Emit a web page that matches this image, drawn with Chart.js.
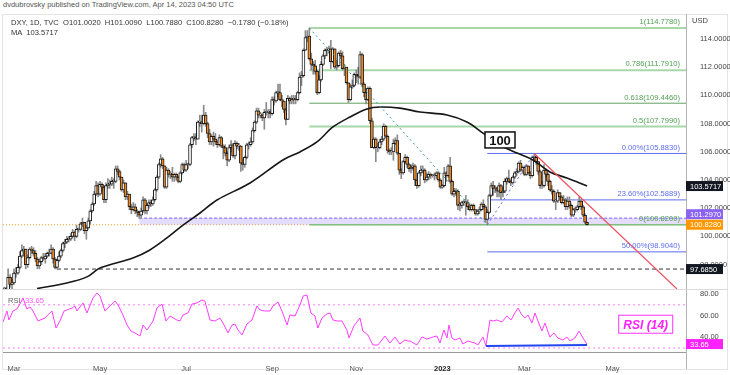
<!DOCTYPE html>
<html>
<head>
<meta charset="utf-8">
<script src="https://cdn.jsdelivr.net/npm/chart.js@4.4.1/dist/chart.umd.min.js"></script>
<style>
  body { margin: 0; width: 730px; height: 375px; background: #fff; position: relative; overflow: hidden;
         font-family: "Liberation Sans", Arial, sans-serif; }
  #byline { position: absolute; left: 3px; top: 0px; font-size: 7.5px; color: #555; white-space: pre; }
  #frame { position: absolute; left: 2px; top: 14px; width: 726px; height: 356px; border: 1px solid #e4e4e4; box-sizing: border-box; }
  #sep { position: absolute; left: 2px; top: 289px; width: 726px; height: 1px; background: #dadada; }
  #legend { position: absolute; left: 11px; top: 18px; font-size: 7.6px; color: #333; line-height: 10px; white-space: pre; z-index: 2; }
  #rsiLegend { position: absolute; left: 8px; top: 296px; font-size: 7.6px; color: #666; white-space: pre; z-index: 2; }
  #rsiLegend span { color: #ff55ff; }
  #priceCanvas { position: absolute; left: 0; top: 14px; }
  #rsiCanvas { position: absolute; left: 0; top: 290px; }
</style>
</head>
<body>
<div id="byline">dvdubrovsky published on TradingView.com, Apr 14, 2023 04:50 UTC</div>
<div id="frame"></div>
<div id="sep"></div>
<canvas id="priceCanvas" width="730" height="275"></canvas>
<canvas id="rsiCanvas" width="730" height="85"></canvas>
<div id="legend">DXY, 1D, TVC  O101.0020  H101.0090  L100.7880  C100.8280  −0.1780 (−0.18%)
MA  103.5717</div>
<div id="rsiLegend">RSI  <span>33.65</span></div>
<script>
// x = trading day number, 0 = 1 Mar 2022 (weekdays only)
const firstBar = -5;   // 22 Feb 2022
const xMin = -5.62, xMax = 343.6;

// daily closes, 22 Feb 2022 -> 14 Apr 2023 (one line per month)
const closes = [
  96.0, 96.2, 97.1, 96.6, 96.7,
  97.4, 97.4, 97.8, 98.6, 99.0, 99.1, 98.0, 98.5, 99.1, 99.0, 98.8, 98.4, 97.9, 98.2, 98.5, 98.4, 98.6, 98.8, 98.8, 99.1, 98.4, 97.8, 98.3,
  98.6, 99.0, 99.5, 99.6, 99.8, 99.8, 100.0, 100.3, 100.0, 100.5, 100.5, 100.9, 101.0, 100.4, 100.6, 101.1, 101.8, 102.3, 103.0, 103.6, 103.0,
  103.7, 103.5, 102.6, 103.6, 103.7, 103.7, 103.9, 103.9, 104.8, 104.6, 104.2, 103.3, 103.8, 102.8, 103.0, 102.1, 101.9, 102.1, 101.8, 101.7, 101.5, 101.8,
  102.6, 101.8, 102.2, 102.4, 102.3, 102.6, 103.3, 104.2, 105.1, 105.5, 105.0, 103.5, 104.7, 104.4, 104.4, 104.2, 104.4, 104.2, 103.9, 104.5, 105.1, 104.7,
  105.1, 105.1, 106.5, 107.0, 107.0, 106.9, 108.1, 108.1, 108.0, 108.6, 108.0, 107.3, 106.7, 107.1, 106.9, 106.7, 106.5, 107.0, 106.4, 106.3, 105.9,
  105.4, 106.3, 106.5, 105.7, 106.6, 106.4, 106.4, 105.2, 105.1, 105.6, 106.5, 106.5, 106.7, 107.5, 108.1, 108.9, 108.6, 108.6, 108.4, 108.8, 108.8, 108.8, 108.7,
  109.7, 109.6, 110.2, 110.2, 109.7, 109.6, 109.0, 108.3, 109.8, 109.6, 109.7, 109.8, 109.7, 110.2, 111.3, 111.4, 113.2, 114.1, 114.2, 112.6, 112.2, 112.1,
  111.7, 110.2, 111.1, 112.2, 112.8, 113.2, 113.2, 113.3, 112.4, 113.3, 112.0, 112.1, 113.0, 112.8, 111.9, 112.0, 110.9, 109.7, 110.6, 110.7, 111.5,
  111.4, 111.3, 112.9, 110.8, 110.2, 109.7, 110.5, 108.2, 106.3, 106.9, 106.3, 106.3, 106.7, 106.9, 107.8, 107.1, 106.1, 106.0, 106.0, 106.6, 106.8, 105.9,
  104.7, 104.5, 105.3, 105.6, 105.1, 104.8, 104.9, 105.0, 104.0, 103.6, 104.5, 104.7, 104.7, 104.0, 104.2, 104.4, 104.3, 104.3, 104.3, 104.5, 104.0, 103.5,
  103.6, 104.5, 104.3, 105.0, 103.9, 103.0, 103.2, 103.2, 102.2, 102.2, 102.4, 102.4, 102.4, 102.1, 101.9, 102.2, 101.9, 101.6, 101.8, 101.9, 102.3, 102.1,
  101.2, 101.7, 102.9, 103.6, 103.4, 103.4, 103.2, 103.6, 103.1, 103.2, 103.9, 104.1, 103.9, 103.8, 104.2, 104.5, 104.6, 105.2, 104.7, 104.9,
  104.4, 105.0, 104.5, 104.3, 105.6, 105.6, 105.3, 104.6, 103.6, 103.6, 104.7, 104.4, 103.9, 103.3, 103.2, 102.5, 102.5, 103.1, 102.8, 102.4, 102.6, 102.1, 102.5,
  102.2, 101.5, 101.9, 101.9, 102.1, 102.5, 102.1, 101.5, 101.006, 100.828
];
const highs = [
  96.4, 96.4, 97.7, 97.3, 97.0,
  97.7, 97.8, 98.0, 98.9, 99.4, 99.3, 99.1, 98.7, 99.2, 99.3, 99.2, 99.0, 98.5, 98.4, 98.6, 98.8, 98.8, 98.9, 99.1, 99.4, 99.2, 98.5, 98.4,
  98.9, 99.1, 99.6, 99.8, 100.0, 100.0, 100.2, 100.5, 100.4, 100.8, 100.6, 101.0, 101.3, 101.0, 100.8, 101.3, 101.9, 102.4, 103.2, 103.9, 103.8,
  103.9, 103.8, 103.6, 103.8, 104.1, 104.0, 104.2, 104.1, 105.0, 105.0, 104.7, 104.2, 104.0, 103.8, 103.2, 103.0, 102.3, 102.4, 102.3, 101.9, 101.8, 102.0,
  102.8, 102.7, 102.3, 102.6, 102.6, 102.8, 103.4, 104.3, 105.2, 105.8, 105.6, 105.0, 104.9, 104.8, 104.6, 104.9, 104.5, 104.5, 104.3, 104.6, 105.2, 105.2,
  105.4, 105.2, 106.6, 107.1, 107.3, 107.3, 108.2, 108.6, 108.6, 109.3, 108.8, 108.1, 107.6, 107.2, 107.4, 107.3, 106.8, 107.2, 107.1, 106.5, 106.5,
  106.0, 106.5, 106.8, 106.6, 106.8, 106.7, 106.6, 106.4, 105.5, 105.7, 106.6, 106.7, 107.0, 107.7, 108.2, 109.1, 109.1, 108.8, 108.7, 109.0, 109.5, 109.0, 109.0,
  109.9, 109.9, 110.3, 110.8, 110.8, 110.0, 109.6, 109.1, 110.0, 109.9, 110.0, 110.0, 110.0, 110.3, 111.6, 111.7, 113.3, 114.6, 114.6, 114.78, 113.0, 112.4,
  112.5, 111.8, 111.4, 112.4, 112.9, 113.3, 113.4, 113.5, 113.9, 113.4, 113.3, 112.5, 113.1, 113.2, 113.1, 112.2, 112.0, 110.9, 110.8, 111.1, 111.6,
  111.8, 112.0, 113.1, 113.0, 110.9, 110.5, 110.6, 110.6, 108.4, 107.0, 107.0, 106.6, 106.9, 107.1, 107.99, 107.9, 107.2, 106.2, 106.3, 106.9, 107.0, 107.2,
  105.9, 104.8, 105.4, 105.8, 105.7, 105.2, 105.1, 105.2, 105.1, 104.0, 104.6, 105.0, 105.0, 104.8, 104.5, 104.6, 104.5, 104.4, 104.5, 104.6, 104.6, 104.1,
  103.7, 104.9, 104.6, 105.1, 105.6, 104.0, 103.4, 103.4, 103.3, 102.4, 102.5, 102.6, 102.9, 102.6, 102.3, 102.3, 102.3, 101.9, 101.9, 102.1, 102.4, 102.6,
  102.2, 101.9, 103.0, 103.8, 103.9, 103.6, 103.5, 103.8, 103.7, 103.5, 104.1, 104.2, 104.7, 104.0, 104.3, 104.6, 104.8, 105.3, 105.4, 105.0,
  105.0, 105.1, 105.0, 104.6, 105.7, 105.88, 105.7, 105.3, 104.7, 103.9, 105.1, 104.8, 104.5, 104.0, 103.6, 103.3, 102.6, 103.3, 103.1, 102.9, 102.9, 102.7, 102.8,
  102.8, 102.3, 102.0, 102.1, 102.2, 102.8, 102.6, 102.2, 101.6, 101.009
];
const lows = [
  95.7, 95.9, 96.1, 96.4, 96.1,
  96.6, 97.1, 97.3, 97.7, 98.5, 98.6, 97.7, 97.8, 98.4, 98.8, 98.6, 98.2, 97.7, 97.7, 98.0, 98.3, 98.1, 98.5, 98.6, 98.8, 98.1, 97.7, 97.7,
  98.2, 98.5, 98.9, 99.2, 99.5, 99.6, 99.7, 99.9, 99.7, 99.9, 100.3, 100.4, 100.7, 100.2, 99.8, 100.5, 100.9, 101.7, 102.2, 102.9, 102.8,
  102.9, 103.2, 102.4, 102.4, 103.4, 103.4, 103.6, 103.4, 103.8, 104.4, 104.0, 103.2, 103.1, 102.6, 102.6, 101.9, 101.6, 101.8, 101.6, 101.4, 101.3, 101.3,
  101.7, 101.6, 101.6, 102.0, 102.1, 102.2, 102.5, 103.2, 104.1, 104.9, 104.8, 103.4, 103.4, 104.2, 104.1, 103.9, 103.9, 104.0, 103.8, 103.8, 104.4, 104.6,
  104.6, 104.8, 105.0, 106.3, 106.8, 106.5, 106.9, 107.8, 107.4, 107.9, 107.8, 107.0, 106.5, 106.5, 106.4, 106.5, 106.3, 106.4, 106.3, 105.5, 105.7,
  105.0, 105.3, 106.0, 105.6, 105.5, 106.2, 106.1, 104.6, 104.7, 104.9, 105.5, 106.2, 106.4, 106.6, 107.4, 108.0, 108.4, 108.4, 108.2, 107.6, 108.6, 108.4, 108.4,
  108.6, 109.3, 109.5, 109.9, 109.6, 109.2, 108.8, 107.9, 108.3, 109.4, 109.4, 109.4, 109.4, 109.6, 110.1, 110.7, 111.3, 113.2, 113.8, 112.5, 111.8, 111.5,
  111.5, 110.05, 110.1, 111.0, 112.1, 112.6, 112.8, 113.0, 111.9, 112.3, 111.9, 111.8, 112.0, 112.6, 111.8, 111.4, 110.8, 109.5, 109.6, 110.5, 110.6,
  110.9, 110.8, 111.2, 110.6, 109.9, 109.4, 109.6, 108.0, 106.3, 106.2, 105.3, 106.0, 106.2, 106.5, 106.8, 107.0, 105.9, 105.8, 105.8, 105.4, 106.5, 105.8,
  104.4, 104.1, 104.4, 105.2, 104.9, 104.6, 104.5, 104.7, 103.6, 103.4, 103.5, 104.3, 104.5, 103.8, 103.9, 104.0, 104.1, 104.2, 104.0, 104.1, 103.9, 103.4,
  103.4, 103.5, 103.9, 104.2, 103.8, 102.9, 102.8, 102.9, 101.9, 101.8, 102.0, 102.2, 101.5, 101.9, 101.8, 101.8, 101.8, 101.5, 101.5, 101.6, 101.8, 101.9,
  101.0, 100.82, 101.6, 102.8, 102.9, 103.1, 102.8, 102.8, 102.6, 102.8, 103.1, 103.7, 103.8, 103.6, 103.7, 104.1, 104.3, 104.5, 104.6, 104.5,
  104.3, 104.3, 104.4, 104.1, 104.2, 105.3, 105.1, 104.4, 103.4, 103.4, 103.5, 104.2, 103.6, 103.2, 103.0, 102.4, 101.9, 102.4, 102.6, 102.3, 102.3, 101.9, 101.9,
  102.0, 101.4, 101.4, 101.7, 101.8, 102.0, 101.9, 101.4, 100.9, 100.788
];
const firstOpen = 96.0, lastOpen = 101.002;

// MA(100)
const maIdx = [11.8, 27.1, 37.3, 44, 60.8, 69.5, 78.2, 86.4, 95.1, 103.8, 120.7, 137.5, 146.2, 154.9, 163.1, 171.8, 180.5, 187.1, 197.3, 207.6, 221.4, 231.6, 239.8, 248.5, 257.2, 265.3, 274, 282.7, 293];
const maVals = [96.3, 96.7, 97.13, 97.76, 98.47, 99.04, 99.89, 100.8, 101.66, 102.58, 103.79, 105.42, 105.99, 106.7, 107.76, 108.47, 109.04, 109.18, 109.1, 108.82, 108.61, 108.11, 107.33, 106.48, 105.91, 105.42, 104.57, 104.14, 103.5717];

// RSI(14)
const rsiIdx = [-5.6, -3.6, -2.6, -0.5, 1.5, 3.6, 4.6, 6.6, 8.2, 9.7, 12.3, 15.8, 19.4, 21.5, 23.5, 25.6, 29.7, 31.2, 32.2, 35.3, 37.3, 40.4, 42.4, 44, 46.5, 49.1, 51.6, 53.2, 55.7, 57.8, 59.8, 61.9, 64.4, 66, 68, 71.1, 73.1, 75.7, 77.7, 79.8, 83.3, 84.9, 86.4, 89, 91, 93.6, 96.1,
  97.6, 100.2, 102.8, 105.3, 106.9, 109.4, 111.5, 113, 114.5, 116.6, 119.1, 121.7, 124.2, 125.8, 128.3, 130.9, 132.4, 135, 137, 139.6, 141.1, 143.7, 146.2, 147.8, 149.8, 151.8, 153.9, 155.4, 157.5, 160, 161.6, 163.1, 165.6, 167.7, 170.2, 171.3, 173.8, 176.9, 178.4, 181, 183.5, 186.1, 189.7, 192.2, 194.8, 197.3, 199.9, 201.4,
  202.5, 206, 208.6, 211.1, 214.2, 216.3, 217.8, 219.8, 221.4, 222.4, 223.9, 225.5, 228, 229.5, 232.1, 235.7, 237.2, 239.8, 241.3, 243.4, 244.9, 246.9, 249.5, 252, 254.1, 256.1, 257.7, 259.7, 261.2, 262.8, 264.8, 266.4, 267.9, 269.9, 271.5, 274, 276.1, 278.1, 280.7, 282.7, 284.3, 286.8, 288.9, 290.9, 293];
const rsiVals = [54.1, 64.3, 55.9, 64.3, 66.1, 72.6, 76.3, 66.1, 68.0, 64.3, 55.0, 57.8, 64.3, 48.5, 55.0, 64.3, 67.0, 68.9, 64.3, 71.7, 62.4, 76.3, 80.9, 78.1, 64.3, 68.9, 73.5, 69.8, 60.6, 51.3, 45.7, 43.9, 41.1, 51.3, 46.7, 55.0, 67.0, 70.7, 55.0, 59.6, 55.9, 55.0, 60.6, 62.4, 70.7, 71.7, 74.4,
  73.5, 55.9, 55.0, 57.8, 53.1, 43.9, 51.3, 52.2, 46.7, 42.0, 52.2, 55.9, 68.9, 65.2, 64.3, 64.3, 68.9, 72.6, 64.3, 51.3, 60.6, 59.6, 69.8, 78.1, 79.1, 62.4, 59.6, 48.5, 57.8, 61.5, 62.4, 55.9, 55.0, 55.0, 46.7, 39.3, 50.4, 57.8, 45.7, 42.0, 32.8, 32.8, 41.1, 34.6, 40.2, 33.7, 37.4, 36.5,
  36.5, 32.8, 40.2, 38.3, 40.2, 41.1, 34.6, 46.7, 39.3, 51.3, 39.3, 37.4, 39.3, 33.7, 36.5, 34.6, 32.8, 40.2, 31.9, 55.9, 55.0, 55.9, 54.1, 59.6, 55.9, 62.4, 67.0, 60.6, 57.8, 60.6, 53.1, 62.4, 55.0, 45.7, 53.1, 40.2, 43.9, 39.3, 37.4, 40.2, 36.5, 39.3, 45.7, 39.3, 33.65];

// fibonacci retracement (Sep 2022 high -> Feb 2023 low) and extension
const fibLevels = [114.778, 111.791, 109.446, 107.799, 100.82];
const fibText = ['1(114.7780)', '0.786(111.7910)', '0.618(109.4460)', '0.5(107.7990)', '0(100.8200)'];
const fibStart = 151;
const extLevels = [105.883, 102.5889, 98.904];
const extText = ['0.00%(105.8830)', '23.60%(102.5889)', '50.00%(98.9040)'];
const extStart = 242;
const supportLevel = 97.685, supportStart = 22;
const zoneTop = 101.297, zoneBottom = 100.82, zoneStart = 64;
const lastPrice = 100.828, maLast = 103.5717, rsiLast = 33.65;

const priceTicks = [98, 100, 102, 104, 106, 108, 110, 112, 114];
const rsiTicks = [40, 60, 80];
const monthIdx = [0, 44, 88, 132, 175, 219, 261, 306];
const monthText = ['Mar', 'May', 'Jul', 'Sep', 'Nov', '2023', 'Mar', 'May'];

Chart.defaults.font.family = '"Liberation Sans", Arial, sans-serif';
Chart.defaults.font.size = 7.5;
Chart.defaults.color = '#444';

const bars = closes.map((c, i) => {
  const o = i === 0 ? firstOpen : (i === closes.length - 1 ? lastOpen : closes[i - 1]);
  return { x: firstBar + i, o: o, h: highs[i], l: lows[i], c: c };
});

function hline(y, x0, color, width, dash, order) {
  return { type: 'line', data: [{ x: x0, y: y }, { x: xMax, y: y }], borderColor: color, borderWidth: width,
           borderDash: dash || [], pointRadius: 0, order: order, fill: false };
}
function seg(a, b, color, width, dash, order) {
  return { type: 'line', data: [a, b], borderColor: color, borderWidth: width, borderDash: dash || [],
           pointRadius: 0, order: order, fill: false };
}
// keep the plot area exactly where the axis says (no label overhang padding)
function rightAxisFit(s) { s.width = 44; s.paddingTop = 0; s.paddingBottom = 0; }

const fibColors = ['#a8d8aa', '#a8d8aa', '#5fa463', '#a8d8aa', '#7cbf7f'];
const fibWidths = [2, 2, 1, 2, 1.5];
const blue = '#5c6bf0';

const datasets = [
  // purple support zone
  { type: 'line', data: [{ x: zoneStart, y: zoneTop }, { x: xMax, y: zoneTop }], borderColor: '#7c5cff', borderWidth: 1,
    borderDash: [3, 2], pointRadius: 0, fill: { value: zoneBottom }, backgroundColor: 'rgba(196,180,248,0.45)', order: 10 },
  hline(lastPrice, xMin, '#f59e2f', 1, [1, 2], 10),
  hline(supportLevel, supportStart, '#333', 1, [4, 3], 9)
];
fibLevels.forEach((v, i) => datasets.push(hline(v, fibStart, fibColors[i], fibWidths[i], [], 8)));
extLevels.forEach(v => datasets.push(hline(v, extStart, blue, 1, [], 8)));
datasets.push(
  { type: 'bar', data: bars.map(b => ({ x: b.x, y: [b.l, b.h] })), backgroundColor: '#8a8a8a', barThickness: 1,
    grouped: false, order: 6 },
  { type: 'bar', data: bars.map(b => ({ x: b.x, y: [b.o, b.c] })),
    backgroundColor: bars.map(b => b.c < b.o ? '#f08a24' : '#ffffff'), borderColor: '#1b1b1b', borderWidth: 1,
    borderSkipped: false, barThickness: 3, minBarLength: 1, grouped: false, order: 5 },
  { type: 'line', data: maIdx.map((x, i) => ({ x: x, y: maVals[i] })), borderColor: '#161616', borderWidth: 1.6,
    pointRadius: 0, tension: 0.35, fill: false, order: 4 },
  seg({ x: fibStart, y: fibLevels[0] }, { x: extStart, y: zoneBottom }, '#3a9e94', 1, [2, 3], 3),
  seg({ x: extStart, y: zoneBottom }, { x: 266, y: extLevels[0] }, blue, 1, [2, 3], 3),
  seg({ x: 266, y: extLevels[0] }, { x: 339, y: 96.27 }, '#ef4f5f', 1.2, [], 3)
);

function badge(ctx, area, yPix, text, bg) {
  ctx.fillStyle = bg;
  ctx.fillRect(area.right, yPix - 5, 37, 10);
  ctx.fillStyle = '#fff';
  ctx.font = '7.5px "Liberation Sans", Arial, sans-serif';
  ctx.textAlign = 'left';
  ctx.textBaseline = 'middle';
  ctx.fillText(text, area.right + 4, yPix + 0.5);
}

const priceOverlay = {
  id: 'priceOverlay',
  afterDraw(chart) {
    const ctx = chart.ctx, a = chart.chartArea, xs = chart.scales.x, ys = chart.scales.y;
    ctx.save();
    ctx.font = '7.6px "Liberation Sans", Arial, sans-serif';
    ctx.textAlign = 'right';
    ctx.textBaseline = 'bottom';
    fibLevels.forEach((v, i) => {
      ctx.fillStyle = '#4e9e52';
      ctx.fillText(fibText[i], a.right - 6, ys.getPixelForValue(v) - 2);
    });
    extLevels.forEach((v, i) => {
      ctx.fillStyle = blue;
      ctx.fillText(extText[i], a.right - 6, ys.getPixelForValue(v) - 2);
    });

    // "100" callout
    const cx = xs.getPixelForValue(248.5), cy = ys.getPixelForValue(106.84);
    ctx.fillStyle = '#fff';
    ctx.fillRect(cx - 15, cy - 8, 30, 16);
    ctx.strokeStyle = '#111';
    ctx.lineWidth = 1.5;
    ctx.strokeRect(cx - 15, cy - 8, 30, 16);
    ctx.fillStyle = '#111';
    ctx.font = 'bold 13px "Liberation Sans", Arial, sans-serif';
    ctx.textAlign = 'center';
    ctx.textBaseline = 'middle';
    ctx.fillText('100', cx, cy + 1);

    ctx.font = '7.5px "Liberation Sans", Arial, sans-serif';
    ctx.fillStyle = '#444';
    ctx.textAlign = 'left';
    ctx.fillText('USD', a.right + 6, 7);

    // price-scale badges
    const yLast = ys.getPixelForValue(lastPrice);
    let yZone = ys.getPixelForValue(zoneTop);
    if (yLast - yZone < 10.5) yZone = yLast - 10.5;
    badge(ctx, a, ys.getPixelForValue(maLast), maLast.toFixed(4), '#131722');
    badge(ctx, a, yZone, zoneTop.toFixed(4), '#8b63f2');
    badge(ctx, a, yLast, lastPrice.toFixed(4), '#ff9800');
    badge(ctx, a, ys.getPixelForValue(supportLevel), supportLevel.toFixed(4), '#131722');
    ctx.restore();
  }
};

new Chart(document.getElementById('priceCanvas'), {
  type: 'bar',
  data: { datasets: datasets },
  options: {
    responsive: false,
    animation: false,
    layout: { padding: { left: 3, right: 0, top: 0, bottom: 0 } },
    plugins: { legend: { display: false }, tooltip: { enabled: false } },
    scales: {
      x: { type: 'linear', display: false, min: xMin, max: xMax, offset: false },
      y: {
        position: 'right', min: 96.27, max: 115.773,
        grid: { display: false }, border: { display: true, color: '#b3b3b3' },
        afterFit: rightAxisFit,
        afterBuildTicks: s => { s.ticks = priceTicks.map(v => ({ value: v })); },
        ticks: { padding: 6, color: '#444', callback: v => v.toFixed(4) }
      }
    }
  },
  plugins: [priceOverlay]
});

const rsiOverlay = {
  id: 'rsiOverlay',
  afterDraw(chart) {
    const ctx = chart.ctx, a = chart.chartArea, ys = chart.scales.y, xs = chart.scales.x;
    ctx.save();
    ctx.strokeStyle = '#b3b3b3';
    ctx.lineWidth = 1;
    ctx.beginPath();
    ctx.moveTo(a.right + 0.5, a.bottom);
    ctx.lineTo(a.right + 0.5, chart.height - 6);
    ctx.stroke();

    // RSI (14) tag
    const bx = xs.getPixelForValue(323), by = ys.getPixelForValue(52);
    ctx.fillStyle = '#fff';
    ctx.fillRect(bx - 27, by - 9, 54, 18);
    ctx.strokeStyle = '#ff33ff';
    ctx.strokeRect(bx - 27, by - 9, 54, 18);
    ctx.fillStyle = '#ff22ff';
    ctx.font = 'italic bold 12px "Liberation Sans", Arial, sans-serif';
    ctx.textAlign = 'center';
    ctx.textBaseline = 'middle';
    ctx.fillText('RSI (14)', bx, by + 1);

    badge(ctx, a, ys.getPixelForValue(rsiLast), rsiLast.toFixed(2), '#ff22ff');
    ctx.restore();
  }
};

new Chart(document.getElementById('rsiCanvas'), {
  type: 'line',
  data: {
    datasets: [
      { data: rsiIdx.map((x, i) => ({ x: x, y: rsiVals[i] })), borderColor: '#ff3dff', borderWidth: 1, pointRadius: 0, order: 2 },
      hline(70, xMin, '#f7a8f7', 1.5, [2, 3], 5),
      hline(30, xMin, '#f7a8f7', 1.5, [2, 3], 5),
      seg({ x: 241.3, y: 31.9 }, { x: 293, y: 32.8 }, '#2346f0', 2, [], 1)
    ]
  },
  options: {
    responsive: false,
    animation: false,
    layout: { padding: { left: 3, right: 0, top: 0, bottom: 0 } },
    plugins: { legend: { display: false }, tooltip: { enabled: false } },
    scales: {
      x: {
        type: 'linear', min: xMin, max: xMax, offset: false,
        grid: { display: false }, border: { display: true, color: '#9a9a9a' },
        afterFit: s => { s.height = 23; s.paddingLeft = 0; s.paddingRight = 0; },
        afterBuildTicks: s => { s.ticks = monthIdx.map(v => ({ value: v })); },
        ticks: {
          autoSkip: false, maxRotation: 0, padding: 4,
          callback: (v, i) => monthText[i],
          color: c => (c.tick && c.tick.value === 219) ? '#222' : '#555',
          font: c => ({ size: 7.5, weight: (c.tick && c.tick.value === 219) ? 'bold' : 'normal' })
        }
      },
      y: {
        position: 'right', min: 26.3, max: 83.7,
        grid: { display: false }, border: { display: true, color: '#b3b3b3' },
        afterFit: rightAxisFit,
        afterBuildTicks: s => { s.ticks = rsiTicks.map(v => ({ value: v })); },
        ticks: { padding: 6, color: '#444', callback: v => v.toFixed(2) }
      }
    }
  },
  plugins: [rsiOverlay]
});
</script>
</body>
</html>
